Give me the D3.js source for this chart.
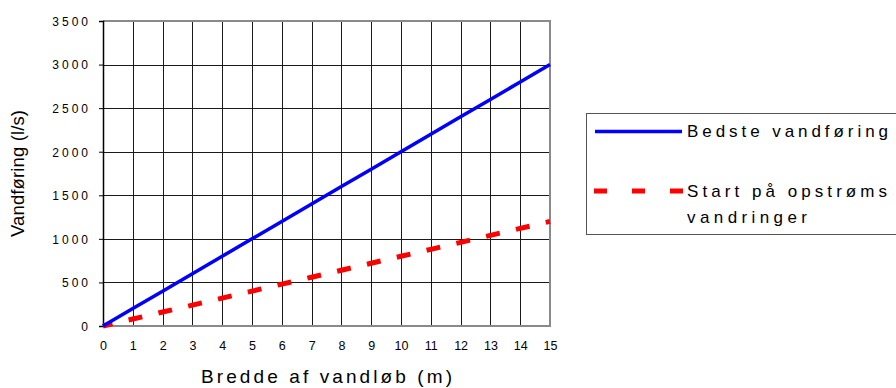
<!DOCTYPE html>
<html>
<head>
<meta charset="utf-8">
<script src="https://cdn.jsdelivr.net/npm/d3@7"></script>
<style>
  html, body { margin: 0; padding: 0; background: #fff; }
  svg { display: block; font-family: Arial, "Liberation Sans", sans-serif; }
</style>
</head>
<body>
<svg id="chart" width="896" height="388"></svg>
<script>
// ---- data ----
const widths = [0, 1, 2, 3, 4, 5, 6, 7, 8, 9, 10, 11, 12, 13, 14, 15];
const bestFlow = [0, 200, 400, 600, 800, 1000, 1200, 1400, 1600, 1800, 2000, 2200, 2400, 2600, 2800, 3000];
const migrationStart = [0, 80, 160, 240, 320, 400, 480, 560, 640, 720, 800, 880, 960, 1040, 1120, 1200];
const yTicks = [0, 500, 1000, 1500, 2000, 2500, 3000, 3500];
const xTicks = [0, 1, 2, 3, 4, 5, 6, 7, 8, 9, 10, 11, 12, 13, 14, 15];
const seriesNames = ["Bedste vandføring", "Start på opstrøms", "vandringer"];
const xTitle = "Bredde af vandløb (m)";
const yTitle = "Vandføring (l/s)";

const svg = d3.select("#chart");
const x = d3.scaleLinear().domain([0, 15]).range([103, 550]);
const y = d3.scaleLinear().domain([0, 3500]).range([326, 21]);

// grid
const grid = svg.append("g");
grid.selectAll("line.v").data(xTicks.filter(d => d > 0 && d < 15)).join("line")
  .attr("x1", d => Math.round(x(d)) + 0.5).attr("x2", d => Math.round(x(d)) + 0.5)
  .attr("y1", y(3500)).attr("y2", y(0))
  .attr("stroke", "#1a1a1a").attr("stroke-width", 1);
grid.selectAll("line.h").data(yTicks.filter(d => d > 0 && d < 3500)).join("line")
  .attr("x1", x(0)).attr("x2", x(15))
  .attr("y1", d => Math.round(y(d)) + 0.5).attr("y2", d => Math.round(y(d)) + 0.5)
  .attr("stroke", "#1a1a1a").attr("stroke-width", 1);

// plot border (top/right/bottom grey)
svg.append("path")
  .attr("d", `M${x(0)},${y(3500)}H${x(15)}V${y(0)}H${x(0)}`)
  .attr("fill", "none").attr("stroke", "#8a8a8a").attr("stroke-width", 2);

// y axis
const yAxis = d3.axisLeft(y).tickValues(yTicks).tickSize(4).tickPadding(0).tickFormat(d3.format("d"));
const yg = svg.append("g").attr("transform", `translate(${x(0)},0)`).call(yAxis);
yg.select(".domain").attr("stroke", "#000").attr("stroke-width", 1.5);
yg.selectAll(".tick line").attr("stroke", "#000");
yg.selectAll(".tick text")
  .attr("x", -12).attr("dy", "0.36em")
  .attr("font-size", 12).attr("letter-spacing", "3px")
  .attr("fill", "#000").attr("font-family", "Arial, 'Liberation Sans', sans-serif");

// x axis
const xAxis = d3.axisBottom(x).tickValues(xTicks).tickSize(0).tickPadding(0).tickFormat(d3.format("d"));
const xg = svg.append("g").attr("transform", `translate(0,${y(0)})`).call(xAxis);
xg.select(".domain").remove();
xg.selectAll(".tick text")
  .attr("y", 24).attr("dy", 0)
  .attr("font-size", 12.5)
  .attr("fill", "#000").attr("font-family", "Arial, 'Liberation Sans', sans-serif");

// lines
const line = (vals) => d3.line().x((d, i) => x(widths[i])).y(d => y(d))(vals);
svg.append("path").attr("d", line(migrationStart))
  .attr("fill", "none").attr("stroke", "#ff0000").attr("stroke-width", 5)
  .attr("stroke-dasharray", "14 16.6").attr("stroke-dashoffset", 4.3);
svg.append("path").attr("d", line(bestFlow))
  .attr("fill", "none").attr("stroke", "#0000ff").attr("stroke-width", 3.5);

// axis titles
svg.append("text").attr("x", 201).attr("y", 383)
  .attr("font-size", 19).attr("textLength", 251).attr("lengthAdjust", "spacing")
  .attr("fill", "#000").text(xTitle);
svg.append("text").attr("transform", "translate(24,237) rotate(-90)")
  .attr("font-size", 18.5).attr("textLength", 127).attr("lengthAdjust", "spacing")
  .attr("fill", "#000").text(yTitle);

// legend
const lg = svg.append("g");
lg.append("rect").attr("x", 586.5).attr("y", 113.5).attr("width", 320).attr("height", 121)
  .attr("fill", "#fff").attr("stroke", "#555").attr("stroke-width", 1);
lg.append("line").attr("x1", 595).attr("x2", 682).attr("y1", 131.5).attr("y2", 131.5)
  .attr("stroke", "#0000ff").attr("stroke-width", 3.5);
lg.append("line").attr("x1", 594).attr("x2", 683).attr("y1", 191).attr("y2", 191)
  .attr("stroke", "#ff0000").attr("stroke-width", 5).attr("stroke-dasharray", "13 25");
lg.append("text").attr("x", 687).attr("y", 137).attr("font-size", 17)
  .attr("textLength", 201).attr("lengthAdjust", "spacing").attr("fill", "#000").text(seriesNames[0]);
lg.append("text").attr("x", 687).attr("y", 197).attr("font-size", 17)
  .attr("textLength", 200).attr("lengthAdjust", "spacing").attr("fill", "#000").text(seriesNames[1]);
lg.append("text").attr("x", 687).attr("y", 222.5).attr("font-size", 17)
  .attr("textLength", 120).attr("lengthAdjust", "spacing").attr("fill", "#000").text(seriesNames[2]);
</script>
</body>
</html>
